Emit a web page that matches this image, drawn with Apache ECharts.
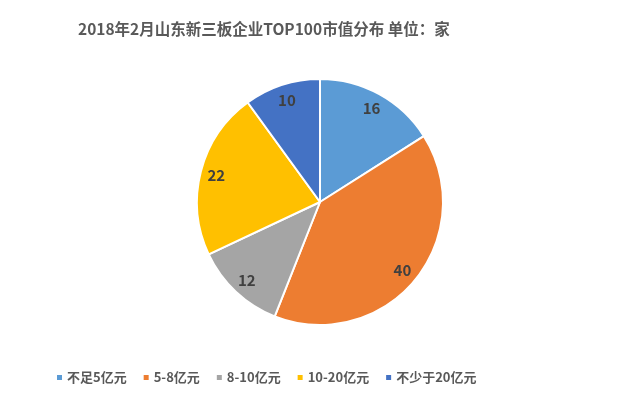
<!DOCTYPE html>
<html>
<head>
<meta charset="utf-8">
<script src="https://cdn.jsdelivr.net/npm/echarts@6/dist/echarts.min.js"></script>
<style>
  html, body { margin: 0; padding: 0; background: #fff; }
  #chart { width: 640px; height: 399px; }
</style>
</head>
<body>
<div id="chart"></div>
<script>
const categories = ['不足5亿元', '5-8亿元', '8-10亿元', '10-20亿元', '不少于20亿元']
const counts = [16, 40, 12, 22, 10]
const colors = ['#5B9BD5', '#ED7D31', '#A5A5A5', '#FFC000', '#4472C4']

const pieData = categories.map((name, i) => ({ name: name, value: counts[i] }))
const font = '"Noto Sans CJK SC", "Noto Sans", sans-serif'

const chart = echarts.init(document.getElementById('chart'))
chart.setOption({
  color: colors,
  animation: false,
  title: {
    text: '2018年2月山东新三板企业TOP100市值分布 单位：家',
    left: 73,
    top: 16,
    textStyle: {
      fontFamily: font,
      fontSize: 15.5,
      fontWeight: 'bold',
      color: '#595959'
    }
  },
  legend: {
    data: categories,
    left: 50,
    top: 366,
    icon: 'rect',
    itemWidth: 7,
    itemHeight: 7,
    itemGap: 15,
    textStyle: {
      fontFamily: font,
      fontSize: 13,
      fontWeight: 'bold',
      color: '#595959',
      padding: [0, 0, 0, -1]
    }
  },
  series: [
    {
      type: 'pie',
      center: [320, 202],
      radius: [0, 123],
      startAngle: 90,
      clockwise: true,
      data: pieData,
      itemStyle: { borderColor: '#fff', borderWidth: 2 },
      label: { show: false },
      labelLine: { show: false },
      emphasis: { disabled: true }
    },
    {
      // transparent ring used only to place value labels near the rim
      type: 'pie',
      center: [320, 202],
      radius: [85, 123],
      startAngle: 90,
      clockwise: true,
      silent: true,
      data: pieData,
      itemStyle: { color: 'rgba(0,0,0,0)', borderWidth: 0 },
      label: {
        show: true,
        position: 'inside',
        formatter: '{c}',
        fontFamily: font,
        fontSize: 15,
        fontWeight: 'bold',
        color: '#404040'
      },
      labelLine: { show: false },
      emphasis: { disabled: true }
    }
  ]
})
</script>
</body>
</html>
